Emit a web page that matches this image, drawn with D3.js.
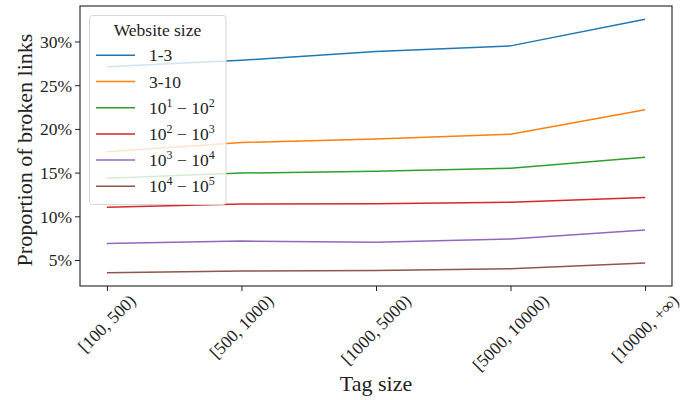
<!DOCTYPE html>
<html><head><meta charset="utf-8">
<script src="https://cdn.jsdelivr.net/npm/d3@7"></script>
<style>
body{margin:0;background:#fff;}
</style></head>
<body><svg id="c" width="692" height="400" font-family="Times New Roman"></svg>
<script>
const FONT = 'Times New Roman';
const categories = ["[100, 500)", "[500, 1000)", "[1000, 5000)", "[5000, 10000)", "[10000, +\u221E)"];
const seriesNames = [
  ["1-3"], ["3-10"], ["10","1","10","2"], ["10","2","10","3"], ["10","3","10","4"], ["10","4","10","5"]
];
const s1_3     = [27.1, 27.85, 28.85, 29.5, 32.55];
const s3_10    = [17.4, 18.45, 18.85, 19.4, 22.2];
const s10_100  = [14.35, 14.95, 15.15, 15.5, 16.75];
const s100_1k  = [11.05, 11.4, 11.45, 11.6, 12.15];
const s1k_10k  = [6.9, 7.17, 7.03, 7.4, 8.43];
const s10k_100k= [3.55, 3.74, 3.8, 4.0, 4.66];
const seriesValues = [s1_3, s3_10, s10_100, s100_1k, s1k_10k, s10k_100k];
const colors = ["#1f77b4","#ff7f0e","#2ca02c","#d62728","#9467bd","#8c564b"];
const yTicks = [5, 10, 15, 20, 25, 30];

const svg = d3.select("#c");
const L = 80, R = 672, T = 6, B = 286;
const x = d3.scalePoint().domain(categories).range([L, R]).padding(0.2);
const y = d3.scaleLinear().domain([2.03, 34.06]).range([B, T]);

// lines
const line = d3.line().x((d,i)=>x(categories[i])).y(d=>y(d));
seriesValues.forEach((vals,k)=>{
  svg.append("path").attr("d", line(vals)).attr("fill","none")
    .attr("stroke", colors[k]).attr("stroke-width",1.5);
});

// axes
const yAxis = svg.append("g").attr("transform",`translate(${L},0)`)
  .call(d3.axisLeft(y).tickValues(yTicks).tickSize(5).tickPadding(3).tickFormat(d=>d+"%"));
yAxis.attr("font-family", FONT).attr("font-size", null);
yAxis.select(".domain").remove();
yAxis.selectAll("line").attr("stroke","#222").attr("stroke-width",1);
yAxis.selectAll("text").attr("font-size","17.5px").attr("fill","#222")
  .attr("font-family", FONT).attr("dy","0.34em");

const xAxis = svg.append("g").attr("transform",`translate(0,${B})`)
  .call(d3.axisBottom(x).tickSize(5).tickFormat(""));
xAxis.select(".domain").remove();
xAxis.selectAll("line").attr("stroke","#222").attr("stroke-width",1);
// rotated labels, bbox centered on tick (matplotlib style)
categories.forEach(c=>{
  const t = svg.append("text").text(c).attr("font-size","17.5px").attr("font-family", FONT)
     .attr("fill","#222").attr("text-anchor","middle").attr("dominant-baseline","central");
  const len = t.node().getComputedTextLength();
  const h = 13;
  const side = (len + h)/Math.SQRT2;
  const cx = x(c), cy = B + 7 + side/2;
  t.attr("x",cx).attr("y",cy).attr("transform",`rotate(-45,${cx},${cy})`);
});

// spines
svg.append("rect").attr("x",L).attr("y",T).attr("width",R-L).attr("height",B-T)
  .attr("fill","none").attr("stroke","#222").attr("stroke-width",1.1);

// axis labels
svg.append("text").text("Tag size").attr("x",(L+R)/2).attr("y",391).attr("font-family", FONT)
  .attr("fill","#222").attr("text-anchor","middle").attr("font-size","22px");
svg.append("text").text("Proportion of broken links").attr("font-family", FONT)
  .attr("fill","#222").attr("transform",`translate(32,${(T+B)/2+4}) rotate(-90)`)
  .attr("text-anchor","middle").attr("font-size","22px");

// legend
const lg = svg.append("g").attr("font-family", FONT);
lg.append("rect").attr("x",89.5).attr("y",15.5).attr("width",136.5).attr("height",189)
  .attr("rx",3).attr("fill","#fff").attr("fill-opacity",0.8)
  .attr("stroke","#d6d6d6").attr("stroke-width",1);
lg.append("text").text("Website size").attr("x",157.5).attr("y",36).attr("font-family", FONT)
  .attr("fill","#222").attr("text-anchor","middle").attr("font-size","17.5px");
seriesNames.forEach((nm,k)=>{
  const yy = 55.3 + k*26.2;
  lg.append("line").attr("x1",96).attr("x2",135).attr("y1",yy).attr("y2",yy)
    .attr("stroke",colors[k]).attr("stroke-width",1.5);
  const t = lg.append("text").attr("x",149).attr("y",yy+6).attr("font-size","17.5px")
    .attr("fill","#222").attr("font-family", FONT);
  if (nm.length===1) { t.text(nm[0]); }
  else {
    t.append("tspan").text(nm[0]);
    t.append("tspan").text(nm[1]).attr("font-size","12px").attr("dy","-7");
    t.append("tspan").text(" \u2212 ").attr("dy","7");
    t.append("tspan").text(nm[2]);
    t.append("tspan").text(nm[3]).attr("font-size","12px").attr("dy","-7");
  }
});
</script></body></html>
